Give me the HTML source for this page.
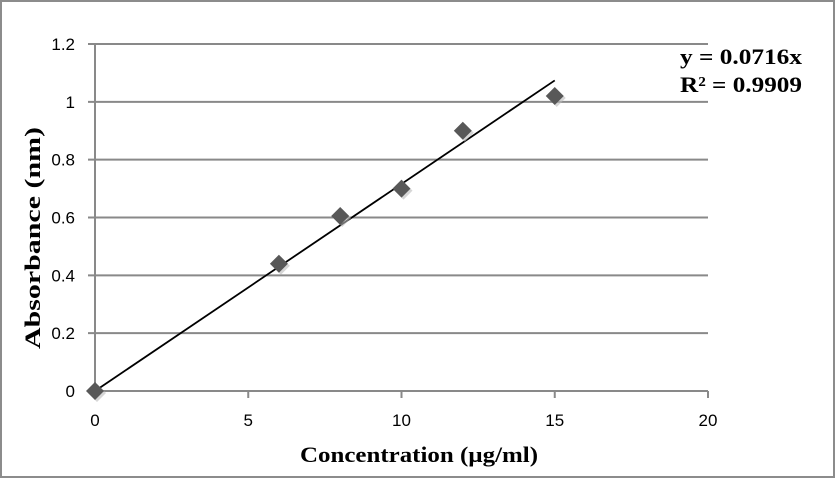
<!DOCTYPE html>
<html><head><meta charset="utf-8"><style>
html,body{margin:0;padding:0;background:#fff;}
svg{display:block;}
</style></head><body>
<svg id="chart" width="836" height="479" xmlns="http://www.w3.org/2000/svg">
<rect x="1" y="1" width="833" height="476" fill="#fff" stroke="#8c8c8c" stroke-width="2"/>
<g id="grid"></g><g id="axes"></g><g id="marks"></g>
<text x="680" y="64" textLength="122" lengthAdjust="spacingAndGlyphs" font-family="Liberation Serif, serif" font-weight="bold" font-size="22">y = 0.0716x</text>
<text x="680" y="92" textLength="122" lengthAdjust="spacingAndGlyphs" font-family="Liberation Serif, serif" font-weight="bold" font-size="22">R² = 0.9909</text>
<text x="300" y="462" textLength="238" lengthAdjust="spacingAndGlyphs" font-family="Liberation Serif, serif" font-weight="bold" font-size="22">Concentration  (µg/ml)</text>
<text transform="translate(40,349) rotate(-90)" textLength="222" lengthAdjust="spacingAndGlyphs" font-family="Liberation Serif, serif" font-weight="bold" font-size="22">Absorbance (nm)</text>
</svg>
<script>
const xVals=[0,6,8,10,12,15];
const yVals=[0,0.44,0.605,0.70,0.90,1.02];
const yTicks=[0,0.2,0.4,0.6,0.8,1,1.2];
const yTickLabels=["0","0.2","0.4","0.6","0.8","1","1.2"];
const xTicks=[0,5,10,15,20];
const slope=0.0716;
const NS="http://www.w3.org/2000/svg";
const X=v=>95+v*(708-95)/20;
const Y=v=>391-v*(391-44)/1.2;
function mk(tag,attrs,parent,text){const e=document.createElementNS(NS,tag);for(const k in attrs)e.setAttribute(k,attrs[k]);if(text!==undefined)e.textContent=text;document.getElementById(parent).appendChild(e);return e;}
const font="Liberation Sans, sans-serif";
yTicks.forEach((t,i)=>{
 const l=mk('line',{x1:88,x2:708,y1:Y(t),y2:Y(t),stroke:'#898989','stroke-width':2},'grid');
 
 
 const tx=mk('text',{x:75,y:Y(t)+6,'font-family':font,'font-size':17,'text-anchor':'end',fill:'#000'},'axes',yTickLabels[i]);
 
 
});
const ya=mk('line',{x1:95,x2:95,y1:44,y2:391,stroke:'#898989','stroke-width':2},'axes');


xTicks.forEach(t=>{
 const l=mk('line',{x1:X(t),x2:X(t),y1:391,y2:398,stroke:'#898989','stroke-width':2},'axes');
 
 
 const tx=mk('text',{x:X(t),y:426,'font-family':font,'font-size':17,'text-anchor':'middle'},'axes',String(t));
 
 
});
const xmax=Math.max(...xVals);
const tl=mk('line',{x1:X(0),y1:Y(0),x2:X(xmax),y2:Y(slope*xmax),stroke:'#000','stroke-width':1.8},'marks');


xVals.forEach((xv,i)=>{
 const cx=X(xv),cy=Y(yVals[i]),r=9;
 const s=mk('polygon',{points:`${cx+2},${cy-r+2} ${cx+r+2},${cy+2} ${cx+2},${cy+r+2} ${cx-r+2},${cy+2}`,fill:'#bbb',opacity:0.6},'marks');
 
 
 const p=mk('polygon',{points:`${cx},${cy-r} ${cx+r},${cy} ${cx},${cy+r} ${cx-r},${cy}`,fill:'#585858'},'marks');
 
 
});
</script>
</body></html>
